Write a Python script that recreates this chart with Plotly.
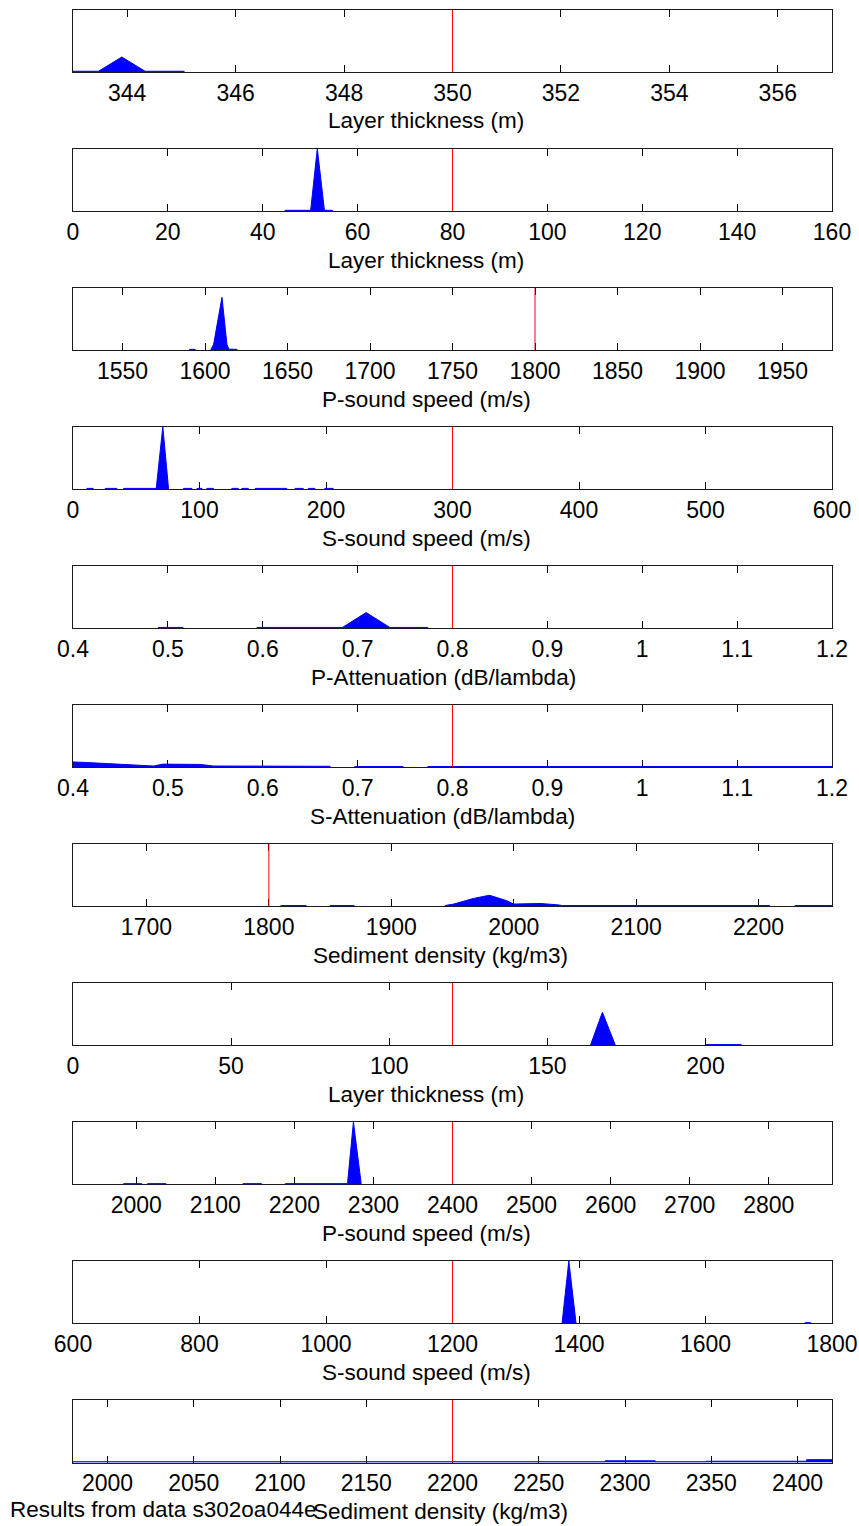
import plotly.graph_objects as go

# ---------------- data ----------------
titles = [
    "Layer thickness (m)", "Layer thickness (m)", "P-sound speed (m/s)",
    "S-sound speed (m/s)", "P-Attenuation (dB/lambda)", "S-Attenuation (dB/lambda)",
    "Sediment density (kg/m3)", "Layer thickness (m)", "P-sound speed (m/s)",
    "S-sound speed (m/s)", "Sediment density (kg/m3)",
]
true_values = [350, 80, 1800, 300, 0.8, 0.8, 1800, 120, 2400, 1200, 2200]
x_ranges = [
    [343, 357], [0, 160], [1520, 1980], [0, 600], [0.4, 1.2], [0.4, 1.2],
    [1640, 2260], [0, 240], [1920, 2880], [600, 1800], [1980, 2420],
]
tick_vals = [
    [344, 346, 348, 350, 352, 354, 356],
    [0, 20, 40, 60, 80, 100, 120, 140, 160],
    [1550, 1600, 1650, 1700, 1750, 1800, 1850, 1900, 1950],
    [0, 100, 200, 300, 400, 500, 600],
    [0.4, 0.5, 0.6, 0.7, 0.8, 0.9, 1.0, 1.1, 1.2],
    [0.4, 0.5, 0.6, 0.7, 0.8, 0.9, 1.0, 1.1, 1.2],
    [1700, 1800, 1900, 2000, 2100, 2200],
    [0, 50, 100, 150, 200],
    [2000, 2100, 2200, 2300, 2400, 2500, 2600, 2700, 2800],
    [600, 800, 1000, 1200, 1400, 1600, 1800],
    [2000, 2050, 2100, 2150, 2200, 2250, 2300, 2350, 2400],
]
tick_text = [
    ["344", "346", "348", "350", "352", "354", "356"],
    ["0", "20", "40", "60", "80", "100", "120", "140", "160"],
    ["1550", "1600", "1650", "1700", "1750", "1800", "1850", "1900", "1950"],
    ["0", "100", "200", "300", "400", "500", "600"],
    ["0.4", "0.5", "0.6", "0.7", "0.8", "0.9", "1", "1.1", "1.2"],
    ["0.4", "0.5", "0.6", "0.7", "0.8", "0.9", "1", "1.1", "1.2"],
    ["1700", "1800", "1900", "2000", "2100", "2200"],
    ["0", "50", "100", "150", "200"],
    ["2000", "2100", "2200", "2300", "2400", "2500", "2600", "2700", "2800"],
    ["600", "800", "1000", "1200", "1400", "1600", "1800"],
    ["2000", "2050", "2100", "2150", "2200", "2250", "2300", "2350", "2400"],
]

# posterior histograms (normalised); None separates runs of non-zero bins
p1_x = [343.0, 343.47, 343.9, 344.33, 345.05]
p1_y = [0.012, 0.012, 0.24, 0.012, 0.012]

p2_x = [44.7, 50.1, 51.5, 53.0, 54.7]
p2_y = [0.012, 0.012, 1.0, 0.012, 0.012]

p3_x = [1590.6, 1594.1, None, 1603.6, 1605.2, 1610.3, 1613.3, 1614.5, 1619.4]
p3_y = [0.012, 0.012, None, 0.012, 0.09, 0.845, 0.09, 0.015, 0.012]

p4_x = [11, 16, None, 25.5, 34.7, None, 40, 65.8, 71.0, 75.5, None, 87.3, 94, None,
        98, 102, None, 105.8, 111, None, 125.5, 130.7, None, 133.4, 138.6, None,
        144, 169, None, 175.5, 182, None, 186, 191.3, None, 199, 205.7]
p4_y = [0.012, 0.012, None, 0.012, 0.012, None, 0.012, 0.012, 1.0, 0.012, None, 0.012, 0.012, None,
        0.012, 0.012, None, 0.012, 0.012, None, 0.012, 0.012, None, 0.012, 0.012, None,
        0.012, 0.012, None, 0.012, 0.012, None, 0.012, 0.012, None, 0.012, 0.012]

p5_x = [0.49, 0.516, None, 0.594, 0.684, 0.709, 0.734, 0.774]
p5_y = [0.012, 0.012, None, 0.012, 0.012, 0.25, 0.012, 0.012]

p6_x = [0.4, 0.415, 0.457, 0.471, 0.485, 0.495, 0.534, 0.548, 0.671, None,
        0.697, 0.748, None, 0.774, 1.2]
p6_y = [0.085, 0.075, 0.045, 0.035, 0.02, 0.05, 0.045, 0.02, 0.015, None,
        0.012, 0.012, None, 0.012, 0.012]

p7_x = [1809.8, 1830.5, None, 1850.1, 1869.7, None, 1944, 1951, 1967, 1980.2, 1994.4,
        1999.8, 2010.7, 2021.6, 2035.2, 2040, 2209, None, 2229.8, 2259.7]
p7_y = [0.012, 0.012, None, 0.012, 0.012, None, 0.012, 0.036, 0.125, 0.177, 0.089,
        0.036, 0.045, 0.045, 0.025, 0.012, 0.012, None, 0.012, 0.012]

p8_x = [163.7, 167.4, 171.5, None, 200.2, 211.3]
p8_y = [0.012, 0.53, 0.012, None, 0.012, 0.012]

p9_x = [1984, 2007, None, 2014.3, 2037.6, None, 2135, 2158.5, None,
        2188.4, 2267.2, 2274.7, 2284.5]
p9_y = [0.012, 0.012, None, 0.012, 0.012, None, 0.012, 0.012, None,
        0.012, 0.012, 1.0, 0.012]

p10_x = [1373.3, 1383.9, 1395.4, None, 1757.4, 1766.4]
p10_y = [0.012, 1.0, 0.012, None, 0.012, 0.012]

p11_x = [1980, 2288.5, 2288.5, 2317.5, 2317.5, 2347, 2347, 2405.3, 2405.3, 2420]
p11_y = [0.012, 0.012, 0.027, 0.027, 0.012, 0.012, 0.02, 0.02, 0.045, 0.045]

hist_x = [p1_x, p2_x, p3_x, p4_x, p5_x, p6_x, p7_x, p8_x, p9_x, p10_x, p11_x]
hist_y = [p1_y, p2_y, p3_y, p4_y, p5_y, p6_y, p7_y, p8_y, p9_y, p10_y, p11_y]

footer = "Results from data s302oa044e"

# ---------------- layout (positions / styles) ----------------
W, H = 859, 1526
FONT = "Arial, Liberation Sans, sans-serif"
X0, X1 = 73 / W, 832 / W
# left edge (px) of each axis label, as placed in the original figure
label_left_px = [328, 328, 322, 322, 311, 310, 313, 328, 322, 322, 313]


def close_runs(xs, ys):
    """Turn runs of bins into closed polygons sitting on y = 0."""
    ox, oy, run = [], [], []
    for x, y in list(zip(xs, ys)) + [(None, None)]:
        if x is None:
            if run:
                if ox:
                    ox.append(None)
                    oy.append(None)
                ox += [run[0][0]] + [p[0] for p in run] + [run[-1][0]]
                oy += [0] + [p[1] for p in run] + [0]
            run = []
        else:
            run.append((x, y))
    return ox, oy


fig = go.Figure()
layout = dict(
    template="none",
    width=W, height=H, margin=dict(l=0, r=0, t=0, b=0, autoexpand=False),
    paper_bgcolor="white", plot_bgcolor="white", showlegend=False,
    font=dict(family=FONT, size=22, color="black"),
    annotations=[], hovermode=False,
)

for i in range(11):
    n = i + 1
    xa = "x" if n == 1 else f"x{n}"
    ya = "y" if n == 1 else f"y{n}"
    top = 9.5 + 139.05 * i
    bot = top + 62.5
    hx, hy = close_runs(hist_x[i], hist_y[i])
    fig.add_trace(go.Scatter(
        x=hx, y=hy, mode="lines", fill="toself", fillcolor="#0000ff",
        line=dict(color="#0000ff", width=1), xaxis=xa, yaxis=ya, hoverinfo="skip",
    ))
    fig.add_trace(go.Scatter(
        x=[true_values[i], true_values[i]], y=[0, 1], mode="lines",
        line=dict(color="#ff0000", width=1), xaxis=xa, yaxis=ya, hoverinfo="skip",
    ))
    layout["xaxis" if n == 1 else f"xaxis{n}"] = dict(
        domain=[X0, X1], anchor=ya, range=x_ranges[i], automargin=False,
        tickmode="array", tickvals=tick_vals[i], ticktext=tick_text[i],
        ticks="inside", ticklen=7, tickwidth=1, tickcolor="black",
        showline=True, linecolor="#1a1a1a", linewidth=1, mirror="ticks",
        showgrid=False, zeroline=False, layer="below traces",
        tickfont=dict(size=23, family=FONT, color="black"),
        ticklabelstandoff=0, fixedrange=True,
    )
    layout["yaxis" if n == 1 else f"yaxis{n}"] = dict(
        domain=[1 - bot / H, 1 - top / H], anchor=xa, range=[0, 1], automargin=False,
        showline=True, linecolor="#1a1a1a", linewidth=1, mirror=True,
        ticks="", showticklabels=False, showgrid=False, zeroline=False,
        layer="below traces", fixedrange=True,
    )
    layout["annotations"].append(dict(
        text=titles[i], xref="paper", yref=f"{ya} domain",
        x=(label_left_px[i] - 2) / W, y=0, xanchor="left", yanchor="middle",
        yshift=-49, showarrow=False,
        font=dict(size=22.5, family=FONT, color="black"),
    ))

layout["annotations"].append(dict(
    text=footer, xref="paper", yref="paper", x=8 / W, y=1 - 1509 / H,
    xanchor="left", yanchor="middle", showarrow=False,
    font=dict(size=22.5, family=FONT, color="black"),
))

fig.update_layout(**layout)
fig.write_html(
    "out.html",
    config={"displayModeBar": False},
    post_script="document.body.style.margin='0';document.body.style.overflow='hidden';",
)
